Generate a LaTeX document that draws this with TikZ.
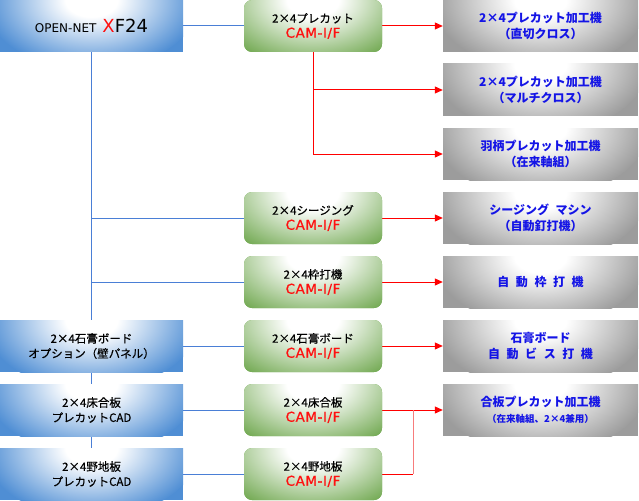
\documentclass[tikz,border=0pt]{standalone}
\usepackage{fontspec}
\setmainfont[FakeBold=0.4]{Noto Sans CJK JP}
\newfontfamily\jpwide[WordSpace=2.4]{Noto Sans CJK JP}
\newfontfamily\vsans{DejaVu Sans}
\newfontfamily\camfont[LetterSpace=4,FakeBold=0.8]{DejaVu Sans}

\usetikzlibrary{arrows.meta,backgrounds}

\definecolor{boxblue}{HTML}{4F8ED4}
\definecolor{boxgreen}{HTML}{6AA448}
\definecolor{boxgray}{HTML}{9C9C9C}
\definecolor{linkblue}{HTML}{4A7FD6}
\definecolor{linkred}{HTML}{FF0000}
\definecolor{linkpink}{HTML}{F77C7C}
\definecolor{txtblue}{HTML}{1414E6}
\definecolor{camred}{HTML}{FF1010}

\pgfdeclareradialshading{blueglow}{\pgfpoint{0bp}{0bp}}{color(0bp)=(white); color(6bp)=(white); color(25bp)=(boxblue); color(50bp)=(boxblue)}
\pgfdeclareradialshading{greenglow}{\pgfpoint{0bp}{0bp}}{color(0bp)=(white); color(6bp)=(white); color(25bp)=(boxgreen); color(50bp)=(boxgreen)}
\pgfdeclareradialshading{grayglow}{\pgfpoint{0bp}{0bp}}{color(0bp)=(white); color(6bp)=(white); color(25bp)=(boxgray); color(50bp)=(boxgray)}

\tikzset{
  glow/.style={path picture={\shade[shading=#1] (path picture bounding box.north) ellipse [x radius=108pt, y radius=70pt];}},
  srcbox/.style={fill=boxblue, glow=blueglow, minimum width=183pt, minimum height=52pt,
    inner sep=0pt, align=center, font=\fontsize{11.5pt}{15pt}\selectfont},
  cambox/.style={fill=boxgreen, glow=greenglow, rounded corners=8pt, minimum width=138pt,
    minimum height=52pt, inner sep=0pt, align=center, font=\fontsize{11.5pt}{15pt}\selectfont},
  machbox/.style={fill=boxgray, glow=grayglow, minimum width=195pt, minimum height=52pt,
    inner sep=0pt, align=center, text=txtblue, font=\jpwide\bfseries\fontsize{12pt}{15.5pt}\selectfont},
  bline/.style={draw=linkblue, line width=1pt},
  rline/.style={draw=linkred, line width=1pt},
  rarrow/.style={draw=linkred, line width=1pt, -{Triangle[length=8pt,width=7pt]}},
}
\newcommand{\cam}{{\camfont\fontsize{13.5pt}{15pt}\selectfont\color{camred}CAM-I/F}}

\begin{document}
\begin{tikzpicture}[x=1pt,y=-1pt]
\useasboundingbox (0,0) rectangle (639,500);

% left source boxes
\node[srcbox] (L0) at (91.5,26) {{\vsans\fontsize{12pt}{15pt}\selectfont OPEN-NET}\hspace{6pt}{\vsans\fontsize{18pt}{20pt}\selectfont\textcolor{camred}{X}F24}};
\node[srcbox] (L5) at (91.5,346) {2×4石膏ボード\\オプション（壁パネル）};
\node[srcbox] (L6) at (91.5,410) {2×4床合板\\プレカットCAD};
\node[srcbox] (L7) at (91.5,474) {2×4野地板\\プレカットCAD};

% CAM-I/F boxes
\node[cambox] (G0) at (313,26) {2×4プレカット\\\cam};
\node[cambox] (G3) at (313,218) {2×4シージング\\\cam};
\node[cambox] (G4) at (313,282) {2×4枠打機\\\cam};
\node[cambox] (G5) at (313,346) {2×4石膏ボード\\\cam};
\node[cambox] (G6) at (313,410) {2×4床合板\\\cam};
\node[cambox] (G7) at (313,474) {2×4野地板\\\cam};

% machines
\node[machbox] (R0) at (540.5,26) {2×4プレカット加工機\\（直切クロス）};
\node[machbox] (R1) at (540.5,90) {2×4プレカット加工機\\（マルチクロス）};
\node[machbox] (R2) at (540.5,154) {羽柄プレカット加工機\\（在来軸組）};
\node[machbox] (R3) at (540.5,218) {シージング マシン\\（自動釘打機）};
\node[machbox] (R4) at (540.5,282) {自 動 枠 打 機};
\node[machbox] (R5) at (540.5,346) {石膏ボード\\自 動 ビ ス 打 機};
\node[machbox] (R6) at (540.5,410) {合板プレカット加工機\\{\fontsize{9.5pt}{12pt}\selectfont（在来軸組、2×4兼用）}};

\coordinate (b3) at (L0.south |- G3.west);
\coordinate (b4) at (L0.south |- G4.west);
\coordinate (r1) at (G0.south |- R1.west);
\coordinate (r2) at (G0.south |- R2.west);
\coordinate (j7) at (413,474);
\coordinate (j6) at (413,410);

\begin{scope}[on background layer]
\draw[bline] (L0.east) -- (G0.west);
\draw[bline] (L0.south) -- (L7.north);
\draw[bline] (b3) -- (G3.west);
\draw[bline] (b4) -- (G4.west);
\draw[bline] (L5.east) -- (G5.west);
\draw[bline] (L6.east) -- (G6.west);
\draw[bline] (L7.east) -- (G7.west);

\draw[rarrow] (G0.east) -- (R0.west);
\draw[rline] (G0.south) -- (r2);
\draw[rarrow] (r1) -- (R1.west);
\draw[rarrow] (r2) -- (R2.west);
\draw[rarrow] (G3.east) -- (R3.west);
\draw[rarrow] (G4.east) -- (R4.west);
\draw[rarrow] (G5.east) -- (R5.west);
\draw[rarrow] (G6.east) -- (R6.west);
\draw[rline] (G7.east) -- (j7);
\draw[draw=linkpink, line width=1pt] (j7) -- (j6);
\end{scope}
\end{tikzpicture}
\end{document}
